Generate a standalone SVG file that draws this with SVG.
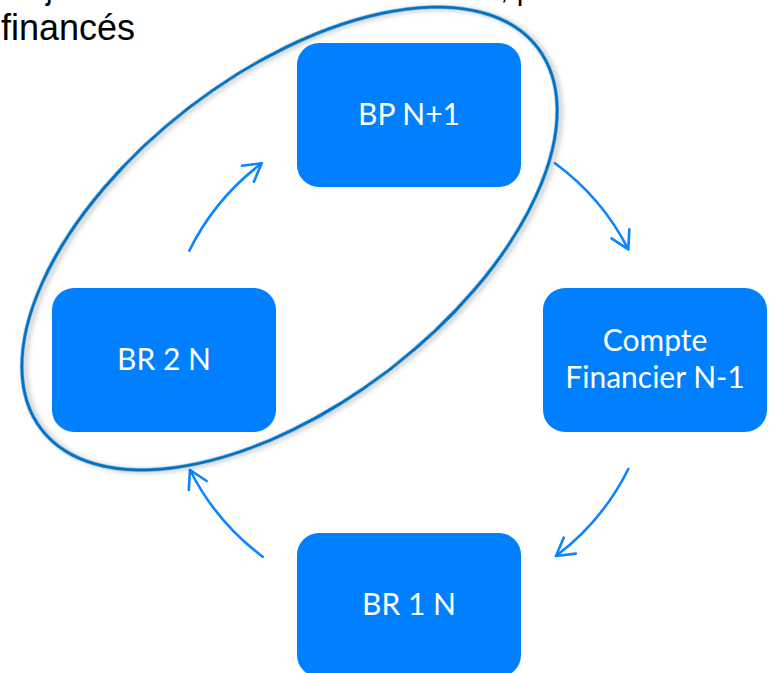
<svg xmlns="http://www.w3.org/2000/svg" width="769" height="673" viewBox="0 0 769 673">
  <style>
    .box { fill: #0080ff; }
    .lbl { font-family: Lato, "Open Sans", sans-serif; font-size: 30px; fill: #ffffff; text-anchor: middle; }
    .head { font-family: "Liberation Sans", Arial, sans-serif; font-size: 36px; fill: #000000; }
    .arc { fill: none; stroke: #0a84ff; stroke-width: 2.6; stroke-linecap: round; }
    .ring { fill: none; stroke: #0070c0; stroke-width: 3.2; }
  </style>
  <defs>
    <marker id="ah" markerUnits="userSpaceOnUse" markerWidth="30" markerHeight="30" viewBox="-20 -15 24 30" refX="0" refY="0" orient="auto">
      <path d="M -17.3 -10 L 0 0 L -17.3 10" fill="none" stroke="#0a84ff" stroke-width="2.6" stroke-linecap="round" stroke-linejoin="round"/>
    </marker>
    <filter id="sh" x="-20%" y="-20%" width="140%" height="140%">
      <feDropShadow dx="2" dy="3" stdDeviation="2.5" flood-color="#000000" flood-opacity="0.28"/>
    </filter>
  </defs>
  <rect width="769" height="673" fill="#ffffff"/>

  <g id="title">
    <text class="head" x="0" y="-2" textLength="622" lengthAdjust="spacingAndGlyphs">Projets votés au BR 2 N et au BP N+1, pour les</text>
    <text class="head" x="1" y="40">financés</text>
  </g>

  <g id="node-bp">
    <rect class="box" x="297" y="43" width="224" height="144" rx="22"/>
    <text class="lbl" x="409" y="125">BP N+1</text>
  </g>
  <g id="node-cf">
    <rect class="box" x="543" y="288" width="224" height="144" rx="22"/>
    <text class="lbl" x="655" y="351">Compte</text>
    <text class="lbl" x="655" y="388">Financier N-1</text>
  </g>
  <g id="node-br1">
    <rect class="box" x="297" y="533" width="224" height="144" rx="22"/>
    <text class="lbl" x="409" y="615">BR 1 N</text>
  </g>
  <g id="node-br2">
    <rect class="box" x="52" y="288" width="224" height="144" rx="22"/>
    <text class="lbl" x="164" y="370">BR 2 N</text>
  </g>

  <g id="connectors">
    <path class="arc" d="M 189.3 250.7 A 245 245 0 0 1 261.7 163.3" marker-end="url(#ah)"/>
    <path class="arc" d="M 555 163.3 A 245 245 0 0 1 628.3 249.3" marker-end="url(#ah)"/>
    <path class="arc" d="M 628.3 469 A 245 245 0 0 1 556 556" marker-end="url(#ah)"/>
    <path class="arc" d="M 262.7 556.7 A 245 245 0 0 1 190 470" marker-end="url(#ah)"/>
  </g>

  <g id="highlight">
    <ellipse class="ring" cx="289.5" cy="238.5" rx="313" ry="165" transform="rotate(-37.6 289.5 238.5)" filter="url(#sh)"/>
  </g>
</svg>
